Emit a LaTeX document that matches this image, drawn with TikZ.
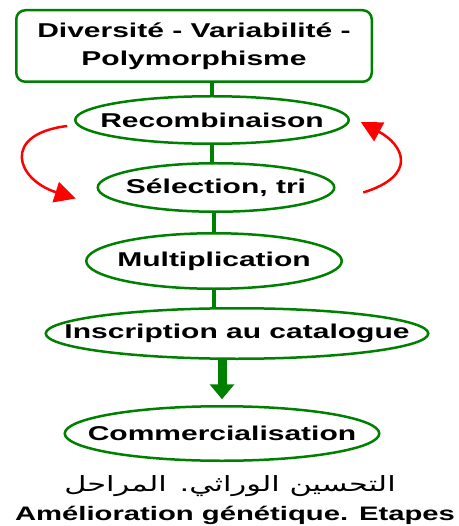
\documentclass[tikz,border=0pt]{standalone}
\usepackage{fontspec}
\setmainfont{Liberation Sans}[FakeStretch=1.5]
\newfontfamily\arabicfont[Script=Arabic,FakeStretch=1.45]{DejaVu Sans}
\TeXXeTstate=1
\usetikzlibrary{arrows.meta,shapes.geometric,positioning}
\definecolor{leafgreen}{RGB}{0,128,0}
\tikzset{
  source/.style={draw=leafgreen, line width=2.5pt, rounded corners=9pt, outer sep=0pt,
    minimum width=355.5pt, minimum height=71.5pt, align=center,
    font=\bfseries\fontsize{20}{28}\selectfont},
  stage/.style={ellipse, draw=leafgreen, line width=2.5pt, outer sep=0pt,
    inner xsep=-50pt, inner ysep=0pt,
    font=\bfseries\fontsize{20}{24}\selectfont},
  caption/.style={inner sep=0pt, anchor=base},
  link/.style={leafgreen, line width=4.5pt},
  feed/.style={leafgreen, line width=9pt, shorten >=7pt,
    -{Triangle[length=15pt,width=24pt]}},
  backloop/.style={red, line width=2.5pt, -{Triangle[length=21pt,width=21pt]}},
}

\begin{document}
\begin{tikzpicture}
\useasboundingbox (0pt,0pt) rectangle (458pt,-526pt);
\node[source] (div) at (194pt,-46pt) {Diversité - Variabilité -\\Polymorphisme};
\node[stage, minimum width=273.5pt, minimum height=47.5pt, below=14.5pt of div, xshift=18pt] (reco) {Recombinaison};
\node[stage, minimum width=236.5pt, minimum height=48.5pt, below=19.5pt of reco, xshift=4pt] (sel) {Sélection, tri};
\node[stage, minimum width=255.5pt, minimum height=55.5pt, below=21.5pt of sel, xshift=-2pt] (mult) {Multiplication};
\node[stage, minimum width=382.5pt, minimum height=50.5pt, below=19.5pt of mult, xshift=23pt] (insc) {Inscription au catalogue};
\node[stage, minimum width=314.5pt, minimum height=54.5pt, below=47.5pt of insc, xshift=-15pt] (comm) {Commercialisation};
\node[caption, font=\arabicfont\fontsize{21}{24}\selectfont] (ar) at (230pt,-491pt) {\beginR التحسين الوراثي. المراحل\endR};
\node[caption, font=\bfseries\fontsize{19.5}{24}\selectfont] (title) at (235pt,-520pt) {Amélioration génétique. Etapes};

\draw[link] (reco.north) -- (reco.north |- div.south);
\draw[link] (reco.south) -- (reco.south |- sel.north);
\draw[link] (mult.north) -- (mult.north |- sel.south);
\draw[link] (mult.south) -- (mult.south |- insc.north);
\draw[feed] (comm.north |- insc.south) -- (comm.north);

\draw[backloop] ([xshift=-8pt,yshift=-6pt]reco.west) .. controls +(-66pt,-8pt) and +(-60pt,19pt) .. ([xshift=-22pt,yshift=-11pt]sel.west);
\draw[backloop] ([xshift=29pt,yshift=-5pt]sel.east) .. controls +(55pt,17pt) and +(43pt,-23pt) .. ([xshift=12pt,yshift=-2pt]reco.east);
\end{tikzpicture}
\end{document}
